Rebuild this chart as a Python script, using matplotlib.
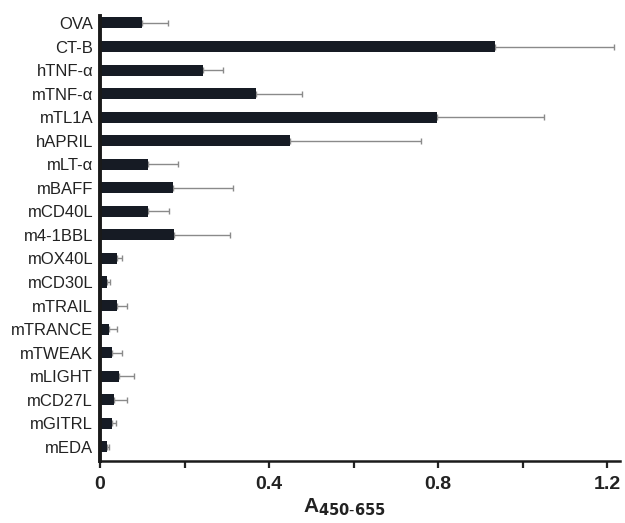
import numpy as np
from matplotlib import pyplot as plt
from matplotlib.ticker import MultipleLocator

# Binding of each ligand, listed top to bottom
ligands = ["OVA", "CT-B", "hTNF-α", "mTNF-α", "mTL1A", "hAPRIL",
           "mLT-α", "mBAFF", "mCD40L", "m4-1BBL", "mOX40L", "mCD30L",
           "mTRAIL", "mTRANCE", "mTWEAK", "mLIGHT", "mCD27L", "mGITRL", "mEDA"]
means = [0.10, 0.935, 0.243, 0.368, 0.797, 0.449, 0.113, 0.172, 0.113, 0.175,
         0.041, 0.016, 0.041, 0.021, 0.029, 0.044, 0.033, 0.028, 0.016]
errors = [0.06, 0.28, 0.047, 0.109, 0.253, 0.311, 0.071, 0.143, 0.051, 0.133,
          0.011, 0.008, 0.024, 0.019, 0.024, 0.036, 0.032, 0.011, 0.006]

plt.rcParams['font.family'] = ['Liberation Sans', 'DejaVu Sans']

fig = plt.figure(figsize=(6.25, 5.23), dpi=100)
ax = fig.add_axes([0.16, 0.1186, 0.832, 0.851])

# first ligand goes at the top
pos = np.arange(len(ligands))[::-1]
ax.barh(pos, means, height=0.47, color="#161b24", zorder=2)
ax.errorbar(means, pos, xerr=[np.zeros(len(errors)), errors], fmt="none",
            ecolor="#8a8a8a", elinewidth=1.0, capsize=2, capthick=1.0, zorder=1)

ax.set_yticks(pos)
ax.set_yticklabels(ligands, fontsize=12, color="#222222")
ax.tick_params(axis="y", length=0, pad=5)

ax.set_xlim(0, 1.23)
ax.set_ylim(-0.6, 18.3)
ax.xaxis.set_minor_locator(MultipleLocator(0.2))
ax.set_xticks([0, 0.4, 0.8, 1.2])
ax.set_xticklabels(["0", "0.4", "0.8", "1.2"], fontsize=14, fontweight="bold",
                   color="#222222")
ax.tick_params(axis="x", which="both", direction="out", length=5, width=1.6,
               color="#222222", pad=6)

for side in ["top", "right"]:
    ax.spines[side].set_visible(False)
ax.spines["left"].set_linewidth(2.8)
ax.spines["bottom"].set_linewidth(1.8)
ax.spines["left"].set_color("#1a1a1a")
ax.spines["bottom"].set_color("#1a1a1a")

ax.set_xlabel(r"A$_{\mathbf{450\text{-}655}}$", fontsize=15, fontweight="bold",
              color="#222222")
ax.xaxis.set_label_coords(0.47, -0.08)

plt.savefig("out.png", dpi=100)
